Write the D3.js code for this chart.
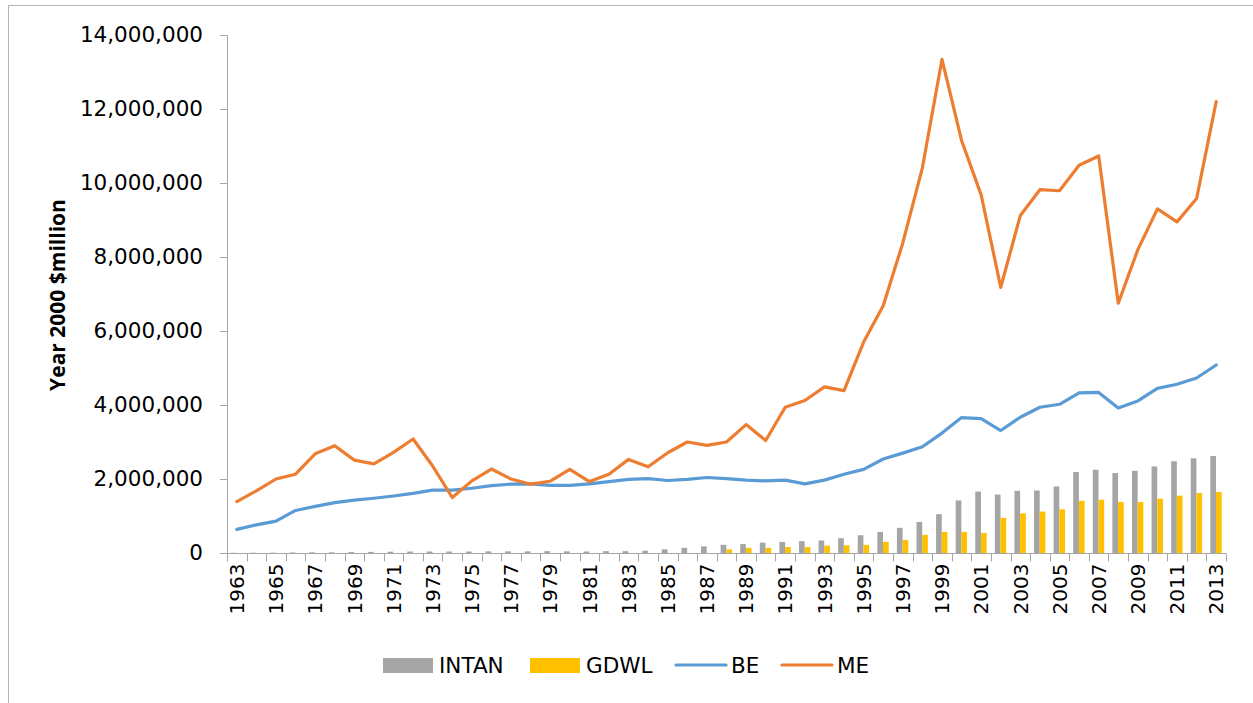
<!DOCTYPE html>
<html>
<head>
<meta charset="utf-8">
<script src="https://cdn.jsdelivr.net/npm/d3@7"></script>
<style>
  html, body { margin: 0; padding: 0; background: #fff; }
  svg { display: block; }
</style>
</head>
<body>
<svg id="chart" width="1253" height="703"></svg>
<script>
// values in millions of year-2000 dollars (axis shows them in full)
const years = d3.range(1963, 2014);

const intan = [0.005, 0.008, 0.01, 0.015, 0.02, 0.02, 0.025, 0.03,
  0.035, 0.04, 0.04, 0.04, 0.04, 0.045, 0.045, 0.045, 0.05, 0.045, 0.04, 0.05, 0.05, 0.06,
  0.10, 0.14, 0.18, 0.22, 0.24, 0.28, 0.30, 0.32, 0.34, 0.40, 0.48, 0.57, 0.68, 0.84,
  1.05, 1.42, 1.66, 1.58, 1.68, 1.69, 1.80, 2.19, 2.25, 2.16, 2.22, 2.34, 2.48, 2.56, 2.62];

const gdwl = [0, 0, 0, 0, 0, 0, 0, 0, 0, 0, 0, 0, 0, 0, 0, 0, 0, 0, 0, 0, 0, 0, 0, 0, 0,
  0.10, 0.14, 0.14, 0.16, 0.16, 0.20, 0.21, 0.22, 0.30, 0.35, 0.49, 0.57, 0.57, 0.54,
  0.95, 1.07, 1.12, 1.18, 1.41, 1.44, 1.38, 1.38, 1.47, 1.55, 1.62, 1.65];

const be = [0.64, 0.76, 0.86, 1.15, 1.26, 1.36, 1.43, 1.48, 1.54, 1.61,
  1.70, 1.70, 1.75, 1.82, 1.86, 1.87, 1.83, 1.83, 1.87, 1.93,
  1.99, 2.01, 1.96, 1.99, 2.04, 2.01, 1.97, 1.95, 1.97, 1.87,
  1.97, 2.13, 2.26, 2.54, 2.70, 2.87, 3.24, 3.66, 3.63, 3.31,
  3.67, 3.94, 4.02, 4.33, 4.34, 3.92, 4.11, 4.45, 4.56, 4.73, 5.08];

const me = [1.39, 1.68, 2.00, 2.13, 2.68, 2.90, 2.51, 2.41, 2.72, 3.08,
  2.35, 1.50, 1.95, 2.27, 2.00, 1.86, 1.94, 2.26, 1.93, 2.13,
  2.53, 2.33, 2.71, 3.00, 2.91, 3.00, 3.47, 3.04, 3.94, 4.12,
  4.49, 4.39, 5.70, 6.68, 8.38, 10.41, 13.34, 11.15, 9.68, 7.18,
  9.12, 9.82, 9.79, 10.48, 10.73, 6.75, 8.20, 9.30, 8.95, 9.58, 12.20];

const yTicks = [0, 2, 4, 6, 8, 10, 12, 14];

const colors = { INTAN: "#A5A5A5", GDWL: "#FFC000", BE: "#5B9BD5", ME: "#ED7D31" };
const axisColor = "#A6A6A6";

const svg = d3.select("#chart");

// outer frame
svg.append("rect")
    .attr("x", 8.5).attr("y", 5.5)
    .attr("width", 1260).attr("height", 720)
    .attr("fill", "none")
    .attr("stroke", "#B4B4B4")
    .attr("stroke-width", 1);

const plot = { left: 227, right: 1226, top: 35, bottom: 553 };

const x = d3.scaleBand()
    .domain(years)
    .range([plot.left, plot.right])
    .padding(0);

const xInner = d3.scaleBand()
    .domain(["INTAN", "GDWL"])
    .range([x.bandwidth() * 0.2, x.bandwidth() * 0.78])
    .padding(0);

const y = d3.scaleLinear()
    .domain([0, 14])
    .range([plot.bottom, plot.top]);

const fmt = d3.format(",");

// bars
const barSeries = [
    { key: "INTAN", values: intan },
    { key: "GDWL", values: gdwl }
];

barSeries.forEach(s => {
    svg.append("g")
        .selectAll("rect")
        .data(years.map((yr, i) => ({ yr, v: s.values[i] })))
        .enter()
        .append("rect")
        .attr("x", d => x(d.yr) + xInner(s.key))
        .attr("width", xInner.bandwidth())
        .attr("y", d => y(d.v))
        .attr("height", d => y(0) - y(d.v))
        .attr("fill", colors[s.key]);
});

// axes
const yAxis = d3.axisLeft(y)
    .tickValues(yTicks)
    .tickSize(7)
    .tickPadding(17)
    .tickFormat(d => fmt(d * 1e6));

const gy = svg.append("g")
    .attr("transform", `translate(${plot.left},0)`)
    .call(yAxis);

gy.select(".domain").attr("stroke", axisColor).attr("d", `M-7,${plot.top + 0.5}H0.5V${plot.bottom}`);
gy.selectAll(".tick line").attr("stroke", axisColor);
gy.selectAll(".tick text")
    .attr("fill", "#000")
    .style("font-family", "'DejaVu Sans'")
    .style("font-size", "21.5px");

const gx = svg.append("g")
    .attr("transform", `translate(0,${plot.bottom + 0.5})`);

gx.append("path")
    .attr("d", `M${plot.left},0H${plot.right}`)
    .attr("stroke", axisColor)
    .attr("fill", "none");

gx.selectAll("line.tick")
    .data(years.concat([null]))
    .enter()
    .append("line")
    .attr("class", "tick")
    .attr("x1", (d, i) => Math.round(plot.left + i * x.step()) + 0.5)
    .attr("x2", (d, i) => Math.round(plot.left + i * x.step()) + 0.5)
    .attr("y1", 0)
    .attr("y2", 8)
    .attr("stroke", axisColor);

gx.selectAll("text")
    .data(years.filter((d, i) => i % 2 === 0))
    .enter()
    .append("text")
    .attr("transform", d => `translate(${x(d) + x.bandwidth() / 2},10) rotate(-90)`)
    .attr("dy", "0.36em")
    .attr("text-anchor", "end")
    .style("font-family", "'DejaVu Sans'")
    .style("font-size", "20px")
    .attr("fill", "#000")
    .text(d => d);

// lines
const line = d3.line()
    .x((d, i) => x(years[i]) + x.bandwidth() / 2)
    .y(d => y(d));

[["BE", be], ["ME", me]].forEach(([key, vals]) => {
    svg.append("path")
        .datum(vals)
        .attr("fill", "none")
        .attr("stroke", colors[key])
        .attr("stroke-width", 3.2)
        .attr("stroke-linejoin", "round")
        .attr("stroke-linecap", "round")
        .attr("d", line);
});

// y axis title
svg.append("text")
    .attr("transform", "translate(58,295) rotate(-90)")
    .attr("text-anchor", "middle")
    .attr("dy", "0.35em")
    .style("font-family", "'Open Sans'")
    .style("font-weight", "bold")
    .style("font-size", "21px")
    .text("Year 2000 $million");

// legend
const legend = [
    { key: "INTAN", type: "rect", x: 383 },
    { key: "GDWL", type: "rect", x: 530 },
    { key: "BE", type: "line", x: 675 },
    { key: "ME", type: "line", x: 781 }
];

const lg = svg.append("g").attr("transform", "translate(0,665)");

legend.forEach(d => {
    if (d.type === "rect") {
        lg.append("rect")
            .attr("x", d.x).attr("y", -7)
            .attr("width", 50).attr("height", 15)
            .attr("fill", colors[d.key]);
    } else {
        lg.append("line")
            .attr("x1", d.x + 1).attr("x2", d.x + 51)
            .attr("y1", 0).attr("y2", 0)
            .attr("stroke", colors[d.key])
            .attr("stroke-width", 3.2)
            .attr("stroke-linecap", "round");
    }
    lg.append("text")
        .attr("x", d.x + 56)
        .attr("y", 0)
        .attr("dy", "0.36em")
        .style("font-family", "'DejaVu Sans'")
        .style("font-size", "21.5px")
        .attr("fill", "#000")
        .text(d.key);
});
</script>
</body>
</html>
